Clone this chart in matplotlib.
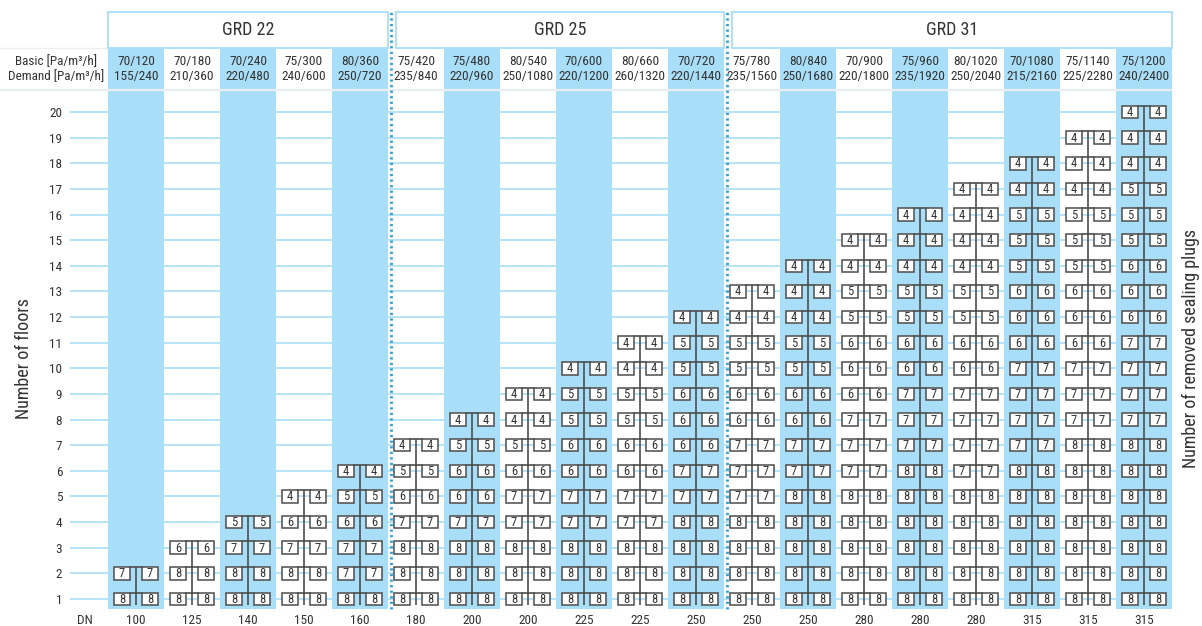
import matplotlib
matplotlib.use("Agg")
import matplotlib.pyplot as plt
import matplotlib.font_manager as fm
from matplotlib.patches import Rectangle

# ---------------- data ----------------
group_names = ["GRD 22", "GRD 25", "GRD 31"]
group_sizes = [5, 6, 8]
basic = ["70/120", "70/180", "70/240", "75/300", "80/360",
         "75/420", "75/480", "80/540", "70/600", "80/660", "70/720",
         "75/780", "80/840", "70/900", "75/960", "80/1020", "70/1080", "75/1140", "75/1200"]
demand = ["155/240", "210/360", "220/480", "240/600", "250/720",
          "235/840", "220/960", "250/1080", "220/1200", "260/1320", "220/1440",
          "235/1560", "250/1680", "220/1800", "235/1920", "250/2040", "215/2160", "225/2280", "240/2400"]
dn = [100, 125, 140, 150, 160, 180, 200, 200, 225, 225, 250, 250, 250, 280, 280, 280, 315, 315, 315]
floors = list(range(1, 21))
# removed sealing plugs per floor, listed from floor 1 upwards
plugs = [
    [8, 7],
    [8, 8, 6],
    [8, 8, 7, 5],
    [8, 8, 7, 6, 4],
    [8, 7, 7, 6, 5, 4],
    [8, 8, 8, 7, 6, 5, 4],
    [8, 8, 8, 7, 6, 6, 5, 4],
    [8, 8, 8, 7, 7, 6, 5, 4, 4],
    [8, 8, 8, 7, 7, 6, 6, 5, 5, 4],
    [8, 8, 8, 7, 7, 6, 6, 5, 5, 4, 4],
    [8, 8, 8, 8, 7, 7, 6, 6, 6, 5, 5, 4],
    [8, 8, 8, 8, 7, 7, 7, 6, 6, 5, 5, 4, 4],
    [8, 8, 8, 8, 8, 7, 7, 6, 6, 5, 5, 4, 4, 4],
    [8, 8, 8, 8, 8, 7, 7, 7, 6, 6, 6, 5, 5, 4, 4],
    [8, 8, 8, 8, 8, 8, 7, 7, 7, 6, 6, 5, 5, 4, 4, 4],
    [8, 8, 8, 8, 8, 7, 7, 7, 7, 6, 6, 5, 5, 4, 4, 4, 4],
    [8, 8, 8, 8, 8, 8, 7, 7, 7, 7, 6, 6, 6, 5, 5, 5, 4, 4],
    [8, 8, 8, 8, 8, 8, 8, 7, 7, 7, 6, 6, 6, 5, 5, 5, 4, 4, 4],
    [8, 8, 8, 8, 8, 8, 8, 7, 7, 7, 7, 6, 6, 6, 5, 5, 5, 4, 4, 4],
]

# ---------------- style ----------------
names = {f.name for f in fm.fontManager.ttflist}
FONT = "DejaVu Sans"
for cand in ["Roboto Condensed", "Liberation Sans Narrow", "Arial Narrow", "Liberation Sans", "Roboto"]:
    if cand in names:
        FONT = cand
        break
plt.rcParams["font.family"] = [FONT, "DejaVu Sans"]

BLUE = "#a9def8"
GRID = "#b0e1f8"
DOT = "#1ea3e3"
DARK = "#333333"
LINE = "#4d4d4d"

W, H = 1202, 626
fig = plt.figure(figsize=(W / 100, H / 100), dpi=100)

n = len(basic)
col_px = 56.0
left_px, right_px = 108.0, 108.0 + n * col_px
row_px = 25.63
top_px, bot_px = 91.0, 609.0


def xpx(px):
    return (px - left_px) / col_px - 0.5


def ypx(py):
    return 1 + (599.0 - py) / row_px


ax = fig.add_axes([left_px / W, 1 - bot_px / H, (right_px - left_px) / W, (bot_px - top_px) / H])
ax.set_xlim(-0.5, n - 0.5)
ax.set_ylim(ypx(bot_px), ypx(top_px))
for s in ax.spines.values():
    s.set_visible(False)

# y ticks (floors)
ax.set_yticks(floors)
ax.set_yticklabels([str(f) for f in floors], fontsize=9.5, color=DARK)
ax.tick_params(axis="y", length=0, pad=33)
# x ticks (DN)
ax.set_xticks(range(n))
ax.set_xticklabels([str(d) for d in dn], fontsize=9.5, color=DARK)
ax.tick_params(axis="x", length=0, pad=3.5)
ax.text(xpx(85), ypx(620), "DN", ha="center", va="center", fontsize=9.5, color=DARK, clip_on=False)

# gridlines
for f in floors:
    ax.plot([xpx(70), n - 0.5], [f, f], color=GRID, lw=1.3, zorder=1, clip_on=False, solid_capstyle="butt")

# blue columns (body + sub-header cells)
for i in range(n):
    if i % 2 == 0:
        ax.add_patch(Rectangle((i - 0.5, ypx(bot_px)), 1, ypx(48) - ypx(bot_px),
                               facecolor=BLUE, edgecolor="none", zorder=2, clip_on=False))
# separator below sub-header
ax.plot([xpx(0), n - 0.5], [ypx(90), ypx(90)], color="#e9eef0", lw=1.6, zorder=2.5, clip_on=False)
ax.plot([xpx(0), -0.5], [ypx(48), ypx(48)], color="#eeeeee", lw=1.0, zorder=2.5, clip_on=False)

# sub-header texts
for i in range(n):
    ax.text(i, ypx(62), basic[i], ha="center", va="center", fontsize=9.6, color=DARK, clip_on=False, zorder=6)
    ax.text(i, ypx(77), demand[i], ha="center", va="center", fontsize=9.6, color=DARK, clip_on=False, zorder=6)
ax.text(xpx(56), ypx(62), "Basic [Pa/m\u00b3/h]", ha="center", va="center", fontsize=9.5, color=DARK, clip_on=False)
ax.text(xpx(56), ypx(77), "Demand [Pa/m\u00b3/h]", ha="center", va="center", fontsize=9.5, color=DARK, clip_on=False)

# group header boxes and dotted separators
start = 0
for g, size in enumerate(group_sizes):
    x0 = start - 0.5
    x1 = start + size - 0.5
    if g > 0:
        x0 += 0.15
        ax.plot([start - 0.5 + 0.055] * 2, [ypx(bot_px), ypx(12)], color=DOT, lw=2.0,
                linestyle=(0, (0.8, 1.2)), zorder=7, clip_on=False)
    ax.add_patch(Rectangle((x0, ypx(48)), x1 - x0, ypx(12) - ypx(48), facecolor="white",
                           edgecolor=BLUE, lw=1.3, zorder=3, clip_on=False))
    ax.text((x0 + x1) / 2, ypx(30), group_names[g], ha="center", va="center", fontsize=13,
            color=DARK, clip_on=False, zorder=6)
    start += size

# sealing-plug trees
bw = 16.5 / col_px
bh = 12.5 / row_px
off = 14 / col_px
for i, vals in enumerate(plugs):
    top = len(vals)
    ax.plot([i, i], [1 - bh / 2, top + bh / 2], color=LINE, lw=1.2, zorder=4, solid_capstyle="butt")
    for k, v in enumerate(vals):
        f = k + 1
        ax.plot([i - off + bw / 2, i + off - bw / 2], [f + bh / 2, f + bh / 2], color=LINE, lw=1.2, zorder=4)
        for side in (-1, 1):
            cx = i + side * off
            ax.add_patch(Rectangle((cx - bw / 2, f - bh / 2), bw, bh, facecolor="white",
                                   edgecolor=LINE, lw=1.1, zorder=5))
            ax.text(cx, f - 0.02, str(v), ha="center", va="center", fontsize=9, color=DARK, zorder=6)

# axis titles
fig.text(24 / W, 1 - 359 / H, "Number of floors", rotation=90, ha="center", va="center",
         fontsize=13, color=DARK)
fig.text(1191 / W, 1 - 348 / H, "Number of removed sealing plugs", rotation=90, ha="center",
         va="center", fontsize=13, color=DARK)

fig.savefig("out.png", dpi=100, facecolor="white")
